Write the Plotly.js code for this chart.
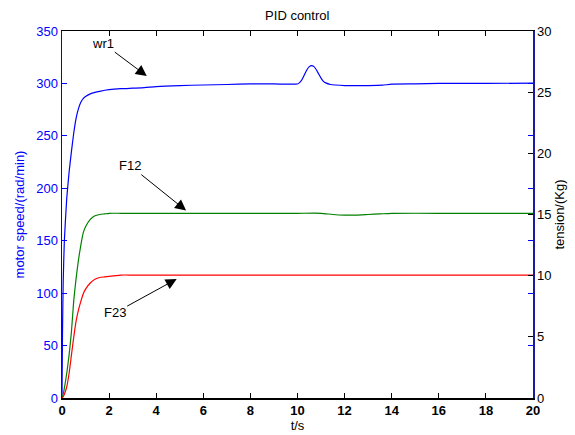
<!DOCTYPE html>
<html>
<head>
<meta charset="utf-8">
<script src="https://cdn.plot.ly/plotly-3.0.1.min.js"></script>
<style>html,body{margin:0;padding:0;background:#fff;}#chart{width:575px;height:435px;}</style>
</head>
<body>
<div id="chart"></div>
<script>
// motor speed wr1 (left axis, rad/min)
var tW = [0,0.02,0.05,0.1,0.2,0.3,0.4,0.5,0.6,0.7,0.8,0.9,1.0,1.2,1.4,1.6,2.0,2.5,3.0,3.5,4.0,5.0,6.0,7.0,8.0,9.0,10.0,10.1,10.2,10.3,10.4,10.5,10.6,10.7,10.8,10.9,11.0,11.1,11.2,11.4,11.6,12.0,13.0,13.6,14.0,15.0,16.0,18.0,20.0];
var wr1 = [0,60,110,150,190,215,235,253,267,276,282,285.5,287.5,290,291.5,292.5,294,295,295.5,296,297,298,298.5,299,299.5,299.5,299.5,301,304,308.5,313,316,317,316,313,309,305,302,300.5,299,298.5,298,298,298.3,299.3,299.6,300,300,300.3];
// tensions (right axis, Kg)
var tF = [0,0.05,0.1,0.2,0.3,0.4,0.5,0.6,0.7,0.8,0.9,1.0,1.2,1.4,1.6,1.8,2.0,2.5,3.0,4.0,6.0,8.0,10.0,11.0,11.5,12.0,12.5,13.0,13.5,14.0,16.0,18.0,20.0];
var F12 = [0,0.3,0.8,2.0,3.5,5.4,8.0,9.8,11.3,12.5,13.5,14.0,14.6,14.9,15.0,15.05,15.1,15.1,15.1,15.1,15.1,15.1,15.1,15.1,15.0,14.95,14.95,15.0,15.05,15.1,15.1,15.1,15.1];
var F23 = [0,0.1,0.3,0.9,2.0,3.5,5.0,6.3,7.2,7.9,8.5,8.9,9.4,9.7,9.85,9.9,9.95,10.05,10.05,10.05,10.05,10.05,10.05,10.05,10.05,10.05,10.05,10.05,10.05,10.05,10.05,10.05,10.05];
// annotation labels
var labels = ['wr1','F12','F23'];
var labelX = [3.6,5.27,4.87];
var labelY = [307,178.7,113.5];
var labelAx = [-44,-56,-62];
var labelAy = [-33,-45,34];

var FONT = 'Liberation Sans, Arial, sans-serif';
var traces = [
  {x:tW, y:wr1, type:'scatter', mode:'lines', line:{color:'#0000ff', width:1.2, shape:'spline', smoothing:0.5}, yaxis:'y', hoverinfo:'skip'},
  {x:tF, y:F12, type:'scatter', mode:'lines', line:{color:'#008000', width:1.2, shape:'spline', smoothing:0.5}, yaxis:'y2', hoverinfo:'skip'},
  {x:tF, y:F23, type:'scatter', mode:'lines', line:{color:'#ff0000', width:1.2, shape:'spline', smoothing:0.5}, yaxis:'y2', hoverinfo:'skip'}
];
var annotations = labels.map(function(s,i){
  return {x:labelX[i], y:labelY[i], xref:'x', yref:'y', text:s, showarrow:true,
    arrowhead:2, arrowsize:2.2, arrowwidth:1, arrowcolor:'#000', ax:labelAx[i], ay:labelAy[i],
    font:{family:FONT, size:13, color:'#000'}};
});
var layout = {
  width:575, height:435, showlegend:false,
  paper_bgcolor:'#fff', plot_bgcolor:'#fff',
  margin:{l:62, r:42, t:31, b:37, pad:0},
  font:{family:FONT, size:13, color:'#000'},
  title:{text:'PID control', font:{family:FONT, size:13, color:'#000'}, x:0.517, xanchor:'center', y:0.9655, yanchor:'middle', yref:'container'},
  xaxis:{range:[0,20], dtick:2, tick0:0, showgrid:false, zeroline:false, showline:true, linecolor:'#000', linewidth:1.5,
    mirror:'ticks', ticks:'inside', ticklen:5, tickcolor:'#000',
    tickfont:{family:FONT, size:13, color:'#000', weight:'bold'},
    title:{text:'t/s', font:{family:FONT, size:13, color:'#000'}, standoff:3}},
  yaxis:{range:[0,350], dtick:50, tick0:0, showgrid:false, zeroline:false, showline:true, linecolor:'#0000ff', linewidth:1.5,
    mirror:'ticks', ticks:'inside', ticklen:5, tickcolor:'#0000ff',
    tickfont:{family:FONT, size:13, color:'#0000ff'},
    title:{text:'motor speed/(rad/min)', font:{family:FONT, size:13, color:'#0000ff'}, standoff:8}},
  yaxis2:{range:[0,30], dtick:5, tick0:0, overlaying:'y', side:'right', showgrid:false, zeroline:false,
    showline:true, linecolor:'#1a1aa0', linewidth:1.5, ticks:'inside', ticklen:5, tickcolor:'#000',
    tickfont:{family:FONT, size:13, color:'#000'},
    title:{text:'tension/(Kg)', font:{family:FONT, size:13, color:'#000'}, standoff:4}},
  annotations:annotations
};
Plotly.newPlot('chart', traces, layout, {staticPlot:true, displayModeBar:false});
</script>
</body>
</html>
